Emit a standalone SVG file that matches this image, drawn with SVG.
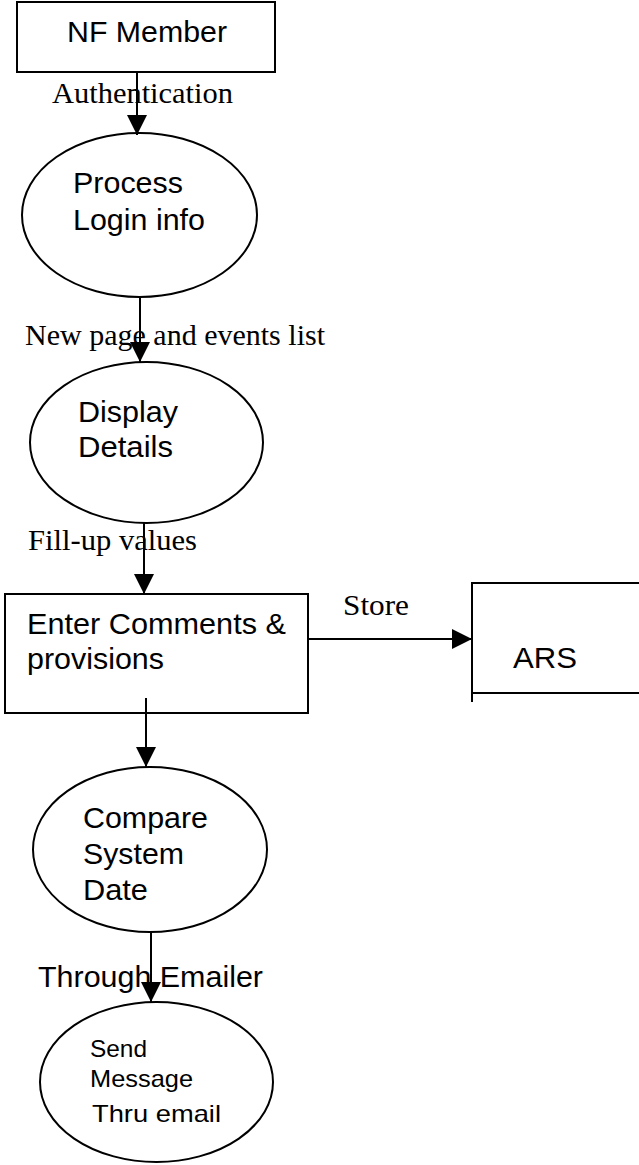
<svg xmlns="http://www.w3.org/2000/svg" width="639" height="1165" viewBox="0 0 639 1165">
<style>
.shape{fill:#fff;stroke:#000;stroke-width:2}
.open{fill:none;stroke:#000;stroke-width:2}
.sans{font-family:"Liberation Sans",Arial,sans-serif;fill:#000;font-size:29.5px}
.small{font-size:24px}
.serif{font-family:"Liberation Serif","Times New Roman",serif;fill:#000;font-size:30px}
.flow{fill:none;stroke:#000;stroke-width:2}
</style>
<defs>
<marker id="ah" markerWidth="20" markerHeight="20" viewBox="0 0 20 20" refX="20" refY="10" orient="auto" markerUnits="userSpaceOnUse">
<path d="M0,0 L20,10 L0,20 Z" fill="#000"/>
</marker>
</defs>
<rect width="639" height="1165" fill="#fff"/>

<g id="nf-member">
<rect class="shape" x="17" y="2" width="258" height="70"/>
<text class="sans" x="67" y="42" textLength="160" lengthAdjust="spacingAndGlyphs">NF Member</text>
</g>

<g id="process-login">
<ellipse class="shape" cx="139.5" cy="215" rx="117.5" ry="82"/>
<text class="sans" x="73" y="193" textLength="110" lengthAdjust="spacingAndGlyphs">Process</text>
<text class="sans" x="73" y="230" textLength="132" lengthAdjust="spacingAndGlyphs">Login info</text>
</g>

<g id="display-details">
<ellipse class="shape" cx="146.5" cy="442.5" rx="116.5" ry="80.5"/>
<text class="sans" x="78" y="422" textLength="100" lengthAdjust="spacingAndGlyphs">Display</text>
<text class="sans" x="78" y="457" textLength="95" lengthAdjust="spacingAndGlyphs">Details</text>
</g>

<g id="enter-comments">
<rect class="shape" x="5" y="594" width="303" height="119"/>
<text class="sans" x="27" y="634" textLength="259" lengthAdjust="spacingAndGlyphs">Enter Comments &amp;</text>
<text class="sans" x="27" y="669" textLength="137" lengthAdjust="spacingAndGlyphs">provisions</text>
</g>

<g id="ars">
<path class="open" d="M639,583 H472 V702 M472,693 H639"/>
<text class="sans" x="513" y="668" font-size="35" textLength="64" lengthAdjust="spacingAndGlyphs">ARS</text>
</g>

<g id="compare-date">
<ellipse class="shape" cx="150" cy="849.5" rx="117" ry="82.5"/>
<text class="sans" x="83" y="828" textLength="125" lengthAdjust="spacingAndGlyphs">Compare</text>
<text class="sans" x="83" y="864" textLength="101" lengthAdjust="spacingAndGlyphs">System</text>
<text class="sans" x="83" y="900" textLength="65" lengthAdjust="spacingAndGlyphs">Date</text>
</g>

<g id="send-message">
<ellipse class="shape" cx="156.5" cy="1082" rx="116.5" ry="80"/>
<text class="sans small" x="90" y="1057" textLength="57" lengthAdjust="spacingAndGlyphs">Send</text>
<text class="sans small" x="90" y="1087" textLength="103" lengthAdjust="spacingAndGlyphs">Message</text>
<text class="sans small" x="92" y="1122" textLength="129" lengthAdjust="spacingAndGlyphs">Thru email</text>
</g>

<g id="connectors">
<line class="flow" x1="137" y1="73" x2="137" y2="135" marker-end="url(#ah)"/>
<line class="flow" x1="140" y1="297" x2="140" y2="362" marker-end="url(#ah)"/>
<line class="flow" x1="144" y1="523" x2="144" y2="594" marker-end="url(#ah)"/>
<line class="flow" x1="308" y1="639" x2="472" y2="639" marker-end="url(#ah)"/>
<line class="flow" x1="146" y1="698" x2="146" y2="767" marker-end="url(#ah)"/>
<line class="flow" x1="151" y1="932" x2="151" y2="1002" marker-end="url(#ah)"/>
<text class="serif" x="52" y="103" textLength="181" lengthAdjust="spacingAndGlyphs">Authentication</text>
<text class="serif" x="25" y="345" textLength="300" lengthAdjust="spacingAndGlyphs">New page and events list</text>
<text class="serif" x="28" y="550" textLength="169" lengthAdjust="spacingAndGlyphs">Fill-up values</text>
<text class="serif" x="343" y="615" textLength="66" lengthAdjust="spacingAndGlyphs">Store</text>
<text class="sans" x="38" y="987" textLength="225" lengthAdjust="spacingAndGlyphs">Through Emailer</text>
</g>
</svg>
